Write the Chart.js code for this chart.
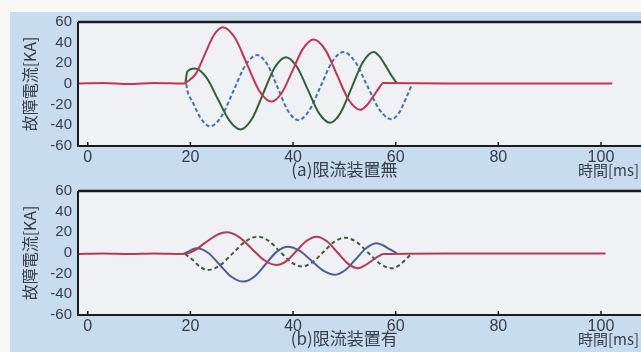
<!DOCTYPE html>
<html lang="ja">
<head>
<meta charset="UTF-8">
<title>故障電流</title>
<script src="https://cdn.jsdelivr.net/npm/chart.js"></script>
<style>
  html, body { margin: 0; padding: 0; background: #f8f8f5; }
  body { width: 641px; height: 352px; position: relative; overflow: hidden; }
  .panel { position: absolute; left: 10px; top: 12px; right: 0; bottom: 0; background: #c8dcef; }
  canvas { position: absolute; left: 0; }
  #chartA { top: 0; }
  #chartB { top: 169px; }
</style>
</head>
<body>
<div class="panel"></div>
<canvas id="chartA" width="641" height="180"></canvas>
<canvas id="chartB" width="641" height="183"></canvas>
<script>
// axes
const xTicks = [0, 20, 40, 60, 80, 100];
const yTicks = [-60, -40, -20, 0, 20, 40, 60];
const yTitle = '故障電流[KA]';
const xTitle = '時間[ms]';
const captionA = '(a)限流装置無';
const captionB = '(b)限流装置有';

// (a) 限流装置無
const aRedT = [-1.9, 3, 8, 13, 18.8, 19.3, 21.05, 22.8, 24.55, 26.3, 28.7, 31.05, 33.4, 35.8, 37.85, 39.9, 41.95, 44, 46.3, 48.55, 50.8, 53.1, 54.3, 55.5, 56.6, 57.6, 70, 85, 102.2];
const aRedV = [0.5, 1, 0, 1, 0.5, 2, 9.8, 28.5, 47.2, 55, 44.5, 19, -6.5, -17, -8.2, 13, 34.2, 43, 33, 9, -15, -25, -21, -13, -5, 1, 0.5, 0.5, 0.5];
const aGreenT = [19.0, 19.4, 20.9, 23.1, 25.35, 27.6, 29.8, 32.0, 34.2, 36.4, 38.6, 40.75, 42.9, 45.05, 47.2, 49.3, 51.45, 53.6, 55.7, 56.8, 58.0, 59.2, 60.2];
const aGreenV = [0, 12, 15, 6.4, -14.5, -35.4, -44, -33.7, -9, 15.7, 26, 16.7, -5.75, -28.2, -37.5, -27.5, -3.25, 21, 31, 27, 18, 8, 1];
const aBlueT = [19.2, 19.4, 20.5, 22.0, 23.8, 26.1, 28.4, 30.7, 33.0, 35.0, 37.0, 39.0, 41.0, 43.2, 45.4, 47.6, 49.8, 52.1, 54.45, 56.8, 59.1, 60.5, 62.0, 63.2];
const aBlueV = [0, -6, -18, -33, -41, -30.9, -6.5, 17.9, 28, 18.8, -3.5, -25.8, -35, -25.3, -2, 21.3, 31, 21.5, -1.5, -24.5, -34, -29, -14, 0];

// (b) 限流装置有
const bRedT = [-1.9, 3, 8, 13, 18.5, 20.65, 22.8, 24.95, 27.1, 29.5, 31.95, 34.4, 36.8, 38.75, 40.7, 42.65, 44.6, 46.6, 48.65, 50.7, 52.7, 54.0, 55.5, 56.7, 57.6, 70, 85, 100.9];
const bRedV = [-1, -0.5, -1, -0.5, -1, 2.1, 9.5, 16.9, 20, 15.4, 4.2, -7, -11.6, -7.6, 2.1, 11.8, 15.8, 11.3, 0.5, -10.3, -14.8, -12, -7, -3, -1, -0.5, -0.5, -0.5];
const bBlueT = [18.5, 19.5, 20.4, 21.2, 23.5, 25.75, 28.0, 30.3, 32.5, 34.65, 36.8, 39.0, 41.3, 43.6, 45.9, 48.2, 50.2, 52.25, 54.3, 56.3, 57.5, 58.9, 60.2];
const bBlueV = [-1, 1, 3.5, 4.5, 0, -11.6, -23, -27.7, -22.8, -10.85, 1.1, 6, 2, -7.5, -17, -21, -16.5, -5.8, 4.9, 9.4, 7.5, 3.5, 0];
const bGreenT = [19.0, 20.3, 21.8, 23.3, 25.8, 28.25, 30.7, 33.2, 35.3, 37.45, 39.6, 41.7, 43.8, 45.9, 48.0, 50.1, 52.4, 54.7, 57.0, 59.3, 60.5, 62.0, 63.2];
const bGreenV = [-1, -6, -13, -16.5, -11.8, -0.35, 11.1, 15.8, 11.6, 1.4, -8.8, -13, -8.9, 0.9, 10.7, 14.8, 10.5, 0, -10.5, -14.8, -12.5, -6, 0];

const fontFamily = "'Liberation Sans', 'Noto Sans CJK JP', sans-serif";
const textColor = '#363c4a';
const plotBg = '#eff1f5';

function pts(t, v) {
  return t.map((x, i) => ({ x: x, y: v[i] }));
}

function makeChart(id, datasets, caption) {
  // plot background, frame and bottom captions
  const deco = {
    id: 'deco',
    beforeDraw(chart) {
      const a = chart.chartArea, ctx = chart.ctx;
      ctx.save();
      ctx.fillStyle = plotBg;
      ctx.fillRect(a.left, a.top, a.right - a.left, a.bottom - a.top);
      ctx.restore();
    },
    afterDatasetsDraw(chart) {
      const a = chart.chartArea, ctx = chart.ctx, xs = chart.scales.x;
      ctx.save();
      ctx.strokeStyle = '#1c1c1c';
      ctx.lineWidth = 2.5;
      ctx.beginPath();
      ctx.moveTo(a.right, a.top);
      ctx.lineTo(a.left, a.top);
      ctx.stroke();
      ctx.lineWidth = 2;
      ctx.beginPath();
      ctx.moveTo(a.left, a.top);
      ctx.lineTo(a.left, a.bottom);
      ctx.lineTo(a.right, a.bottom);
      ctx.stroke();
      ctx.lineWidth = 1.5;
      xTicks.forEach(v => {
        const px = xs.getPixelForValue(v);
        ctx.beginPath();
        ctx.moveTo(px, a.bottom);
        ctx.lineTo(px, a.bottom - 4);
        ctx.stroke();
      });
      ctx.fillStyle = textColor;
      ctx.font = "17px 'Noto Sans CJK JP', sans-serif";
      ctx.textBaseline = 'middle';
      ctx.textAlign = 'center';
      ctx.fillText(caption, xs.getPixelForValue(50), 170);
      ctx.font = "15px 'Noto Sans CJK JP', sans-serif";
      ctx.textAlign = 'right';
      ctx.fillText(xTitle, 639, 170);
      ctx.restore();
    }
  };

  return new Chart(document.getElementById(id), {
    type: 'line',
    data: { datasets: datasets },
    options: {
      responsive: false,
      animation: false,
      layout: { padding: { top: 22, left: 20, right: 0, bottom: 0 } },
      plugins: { legend: { display: false }, tooltip: { enabled: false } },
      elements: {
        point: { radius: 0 },
        line: { borderWidth: 2, cubicInterpolationMode: 'monotone' }
      },
      scales: {
        x: {
          type: 'linear',
          min: -1.9,
          max: 107.8,
          grid: { display: false, drawTicks: false },
          border: { display: false },
          afterBuildTicks: s => { s.ticks = xTicks.map(v => ({ value: v })); },
          afterFit: s => { s.height = s.chart.height - 146; s.paddingLeft = 0; s.paddingRight = 0; },
          ticks: { padding: 2, color: textColor, maxRotation: 0, autoSkip: false, font: { family: fontFamily, size: 16 } }
        },
        y: {
          min: -60,
          max: 60,
          grid: { display: false, drawTicks: false },
          border: { display: false },
          afterBuildTicks: s => { s.ticks = yTicks.map(v => ({ value: v })); },
          afterFit: s => { s.width = 58; s.paddingTop = 0; s.paddingBottom = 0; },
          ticks: { padding: 6, autoSkip: false, color: textColor, font: { family: fontFamily, size: 15 } },
          title: {
            display: true,
            text: yTitle,
            color: textColor,
            padding: 0,
            font: { family: "'Noto Sans CJK JP', sans-serif", size: 16 }
          }
        }
      }
    },
    plugins: [deco]
  });
}

makeChart('chartA', [
  { data: pts(aRedT, aRedV), borderColor: '#c73353' },
  { data: pts(aGreenT, aGreenV), borderColor: '#2f6036' },
  { data: pts(aBlueT, aBlueV), borderColor: '#3d72bd', borderDash: [4, 2.5] }
], captionA);

makeChart('chartB', [
  { data: pts(bRedT, bRedV), borderColor: '#b63958' },
  { data: pts(bBlueT, bBlueV), borderColor: '#4d5e9b' },
  { data: pts(bGreenT, bGreenV), borderColor: '#3f5a3d', borderDash: [4, 3] }
], captionB);
</script>
</body>
</html>
